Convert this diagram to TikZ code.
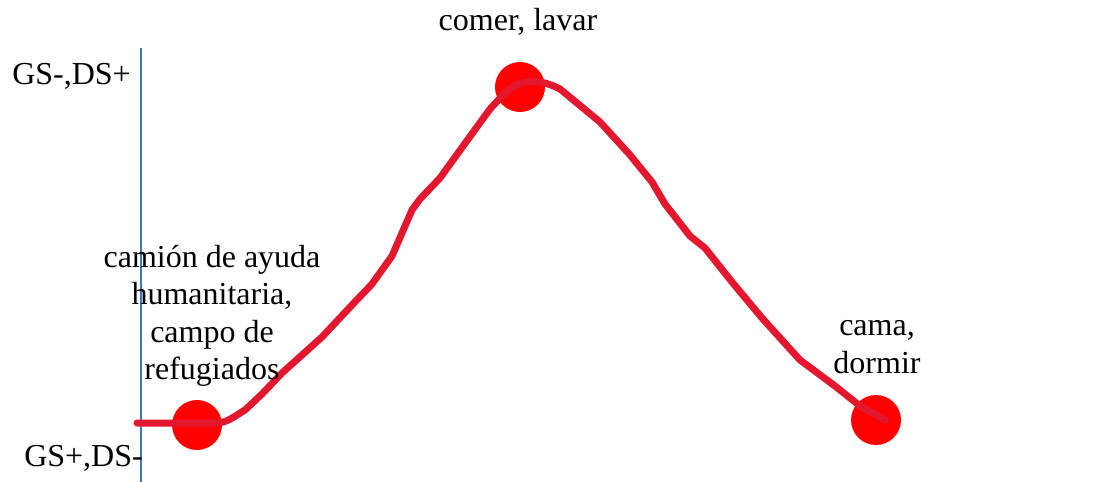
\documentclass[tikz,border=0pt]{standalone}
\usepackage{fontspec}
\setmainfont{Liberation Serif}
\definecolor{curvecol}{HTML}{E3172D}
\definecolor{dotcol}{HTML}{FF0000}
\definecolor{axiscol}{HTML}{4472C4}
\begin{document}
\begin{tikzpicture}[x=1pt,y=-1pt,
  lbl/.style={font=\fontsize{32}{37.5}\selectfont, align=center, inner sep=0pt},
  dot/.style={circle, fill=dotcol, minimum size=50pt, inner sep=0pt},
  curve/.style={draw=curvecol, line width=7pt, line cap=round, line join=round}]
\useasboundingbox (0,0) rectangle (1109,482);
\coordinate (axtop) at (141,48);
\coordinate (axbot) at (141,482);
\draw[axiscol, line width=1.2pt] (axtop) -- (axbot);
\node[dot] (d1) at (197,425) {};
\node[dot] (d2) at (520,87) {};
\node[dot] (d3) at (876,420) {};
\coordinate (s) at (137,423);
\coordinate (e) at (885,420);
\draw[curve] (s) -- (215,423) to[out=0,in=-150] (245,410) -- (262,394) -- (282,373) -- (322,337) -- (352,305) -- (372,284) -- (392,256) -- (412,210) -- (420,199) -- (440,178) -- (466,142) -- (490,109) -- (503,95) .. controls (516,81) and (535,76) .. (560,89) -- (600,122) -- (630,155) -- (652,182) -- (665,204) -- (690,236) -- (705,248) -- (732,282) -- (762,318) -- (800,360) -- (835,386) -- (860,406) -- (e);
\node[lbl] (top) at (518,22) {comer, lavar};
\node[lbl] (left) at (212,316) {camión de ayuda\\humanitaria,\\campo de\\refugiados};
\node[lbl] (right) at (877,347) {cama,\\dormir};
\node[lbl, anchor=east] (ymax) at (131,76) {GS-,DS+};
\node[lbl, anchor=east] (ymin) at (143,458) {GS+,DS-};
\end{tikzpicture}
\end{document}
